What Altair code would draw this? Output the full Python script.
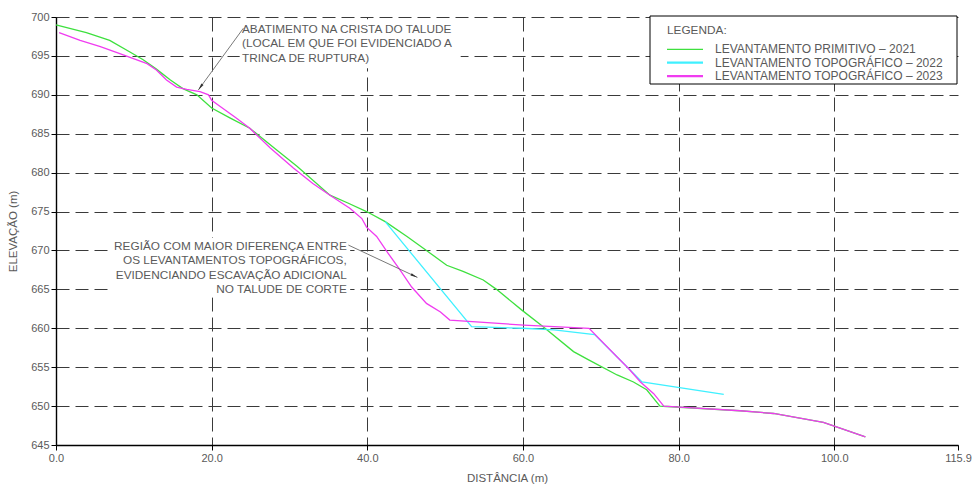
import math
import altair as alt
import pandas as pd

# ---------------- data ----------------
names = ["LEVANTAMENTO PRIMITIVO – 2021",
         "LEVANTAMENTO TOPOGRÁFICO – 2022",
         "LEVANTAMENTO TOPOGRÁFICO – 2023"]
colors = ["#3ee03e", "#3ff0ff", "#f03cf0"]

x_2021 = [0.0, 3.9, 6.9, 9.5, 11.2, 12.9, 14.7, 16.3, 18.1, 20.0, 22.4, 24.9, 28.0, 31.0,
          35.2, 37.5, 39.9, 42.3, 45.1, 47.6, 50.2, 52.3, 54.9, 56.6, 59.9, 62.6, 66.5,
          68.5, 72.1, 74.2, 75.9, 77.6, 78.5, 87.9, 92.2, 98.6, 100.1, 104.0]
y_2021 = [699.0, 698.0, 697.0, 695.5, 694.5, 693.3, 691.9, 690.8, 690.0, 688.3, 687.0, 685.7,
          683.2, 680.8, 677.1, 676.1, 675.0, 673.7, 671.8, 670.0, 668.1, 667.3, 666.2, 665.0,
          662.3, 660.2, 657.0, 655.9, 654.0, 653.1, 652.1, 650.0, 649.95, 649.4, 649.05,
          647.9, 647.4, 646.05]

x_2022 = [42.3, 53.4, 60.0, 64.0, 69.2, 72.1, 75.3, 85.8]
y_2022 = [673.7, 660.2, 660.0, 659.8, 659.2, 656.3, 653.1, 651.5]

x_2023 = [0.4, 3.1, 5.7, 8.2, 11.7, 12.9, 14.2, 15.5, 16.8, 18.5, 19.6, 20.0, 21.1, 23.2,
          24.9, 27.5, 30.5, 33.0, 35.2, 37.8, 39.3, 39.9, 41.2, 42.7, 44.2, 45.7, 47.6,
          49.4, 50.6, 60.1, 68.5, 72.1, 73.6, 75.1, 76.8, 78.1, 87.9, 92.2, 98.6, 100.1, 104.0]
y_2023 = [698.0, 697.0, 696.2, 695.3, 694.0, 693.2, 691.9, 691.0, 690.7, 690.4, 690.0, 689.3,
          688.5, 687.0, 685.7, 683.2, 680.6, 678.6, 677.1, 675.4, 674.1, 673.0, 671.8, 669.6,
          667.5, 665.3, 663.2, 662.1, 661.05, 660.4, 660.0, 656.3, 654.8, 653.1, 651.6,
          650.0, 649.4, 649.05, 647.9, 647.4, 646.05]

x_ticks = [0, 20, 40, 60, 80, 100, 115.9]
y_ticks = [645, 650, 655, 660, 665, 670, 675, 680, 685, 690, 695, 700]

ann1_lines = ["ABATIMENTO NA CRISTA DO TALUDE",
              "(LOCAL EM QUE FOI EVIDENCIADO A",
              "TRINCA DE RUPTURA)"]
ann2_lines = ["REGIÃO COM MAIOR DIFERENÇA ENTRE",
              "OS LEVANTAMENTOS TOPOGRÁFICOS,",
              "EVIDENCIANDO ESCAVAÇÃO ADICIONAL",
              "NO TALUDE DE CORTE"]
legend_title = "LEGENDA:"

# ---------------- layout / style ----------------
W, H = 902, 428
XMAX, YMIN, YMAX = 115.9, 645, 700
FONT = "Liberation Sans"
TXT = "#5a5a5a"
px_x = W / XMAX
px_y = H / (YMAX - YMIN)

rows = []
for name, xs, ys in zip(names, [x_2021, x_2022, x_2023], [y_2021, y_2022, y_2023]):
    for i, (a, b) in enumerate(zip(xs, ys)):
        rows.append({"serie": name, "x": a, "y": b, "i": i})
df = pd.DataFrame(rows)

xscale = alt.Scale(domain=[0, XMAX], nice=False, zero=False)
yscale = alt.Scale(domain=[YMIN, YMAX], nice=False, zero=False)
cscale = alt.Scale(domain=names, range=colors)

grid_common = dict(gridColor="#3a3a3a", gridWidth=1, domainColor="black", domainWidth=1.4,
                   tickColor="black", tickSize=5, labelFont=FONT, labelFontSize=11,
                   labelColor=TXT, titleFont=FONT, titleFontSize=11.5, titleColor=TXT,
                   titleFontWeight="normal", labelOverlap=False, tickCount=30)

x_axis = alt.Axis(values=x_ticks, format=".1f", title="DISTÂNCIA (m)", grid=True,
                  gridDash=[14, 6],
                  gridOpacity={"condition": {"test": "datum.value > 110", "value": 0}, "value": 1},
                  labelPadding=2, titlePadding=9, labelFlush=False, **grid_common)
y_axis = alt.Axis(values=y_ticks, format="d", title="ELEVAÇÃO (m)", grid=True,
                  gridDash=[13, 6], labelPadding=2, titlePadding=12, **grid_common)

lines = alt.Chart(df).mark_line(strokeWidth=1.3).encode(
    x=alt.X("x:Q", scale=xscale, axis=x_axis),
    y=alt.Y("y:Q", scale=yscale, axis=y_axis),
    color=alt.Color("serie:N", scale=cscale, legend=None),
    order="i:Q",
)

# white masks behind the annotation blocks (data coordinates)
masks = pd.DataFrame([
    {"x": 23.6, "x2": 52.0, "y": 699.7, "y2": 693.4},
    {"x": 6.9, "x2": 37.8, "y": 671.6, "y2": 664.0},
])
mask_layer = alt.Chart(masks).mark_rect(fill="white").encode(
    x="x:Q", x2="x2:Q", y="y:Q", y2="y2:Q")

# annotation text
t1 = pd.DataFrame({"t": ann1_lines, "x": 23.9,
                   "y": [698.46 - k * 1.84 for k in range(len(ann1_lines))]})
t2 = pd.DataFrame({"t": ann2_lines, "x": 37.36,
                   "y": [670.57 - k * 1.86 for k in range(len(ann2_lines))]})
text1 = alt.Chart(t1).mark_text(align="left", baseline="middle", font=FONT, fontSize=11.8,
                                color=TXT).encode(x="x:Q", y="y:Q", text="t:N")
text2 = alt.Chart(t2).mark_text(align="right", baseline="middle", font=FONT, fontSize=11.8,
                                color=TXT).encode(x="x:Q", y="y:Q", text="t:N")

# leaders and arrowheads
lead = pd.DataFrame([
    {"x": 24.07, "y": 698.55, "x2": 18.29, "y2": 690.62},
    {"x": 37.57, "y": 670.69, "x2": 46.44, "y2": 666.54},
])
lead["ang"] = [
    (math.degrees(math.atan2((r.x2 - r.x) * px_x, (r.y - r.y2) * px_y * -1 * -1)) + 360) % 360
    if False else
    (math.degrees(math.atan2((r.x2 - r.x) * px_x, (r.y2 - r.y) * px_y)) + 360) % 360
    for r in lead.itertuples()
]
leader = alt.Chart(lead).mark_rule(color="#6a6a6a", strokeWidth=0.9).encode(
    x="x:Q", y="y:Q", x2="x2:Q", y2="y2:Q")
arrow = alt.Chart(lead).mark_point(
    shape="M0,0 L0.38,2 L-0.38,2 Z", filled=True, size=49, color="#333333", opacity=1
).encode(x="x2:Q", y="y2:Q", angle=alt.Angle("ang:Q", scale=None))

# manual legend box (pixel positions inside the plot area)
LX0, LX1, LY0, LY1 = 594, 901, -1, 67
box = alt.Chart(pd.DataFrame({"a": [0]})).mark_rect(
    fill="white", stroke="black", strokeWidth=1).encode(
    x=alt.value(LX0), x2=alt.value(LX1), y=alt.value(LY0), y2=alt.value(LY1))
ltitle = alt.Chart(pd.DataFrame({"t": [legend_title]})).mark_text(
    align="left", baseline="middle", font=FONT, fontSize=11.8, color=TXT).encode(
    x=alt.value(611), y=alt.value(13), text="t:N")
legend_layers = [box, ltitle]
for k, (name, col) in enumerate(zip(names, colors)):
    yy = 32.3 + 13.4 * k
    sw = 1.2 if k == 0 else 2.2
    ent = pd.DataFrame({"t": [name]})
    legend_layers.append(alt.Chart(ent).mark_rule(color=col, strokeWidth=sw).encode(
        x=alt.value(611), x2=alt.value(647), y=alt.value(yy)))
    legend_layers.append(alt.Chart(ent).mark_text(
        align="left", baseline="middle", font=FONT, fontSize=12, color=TXT).encode(
        x=alt.value(659), y=alt.value(yy), text="t:N"))

chart = alt.layer(mask_layer, lines, leader, arrow, text1, text2, *legend_layers).properties(
    width=W, height=H,
    autosize=alt.AutoSizeParams(type="none"),
    padding={"left": 56, "top": 17, "right": 14, "bottom": 39},
    background="white",
).configure_view(stroke=None)

chart.save("out.html", embed_options={"renderer": "svg", "actions": False})
